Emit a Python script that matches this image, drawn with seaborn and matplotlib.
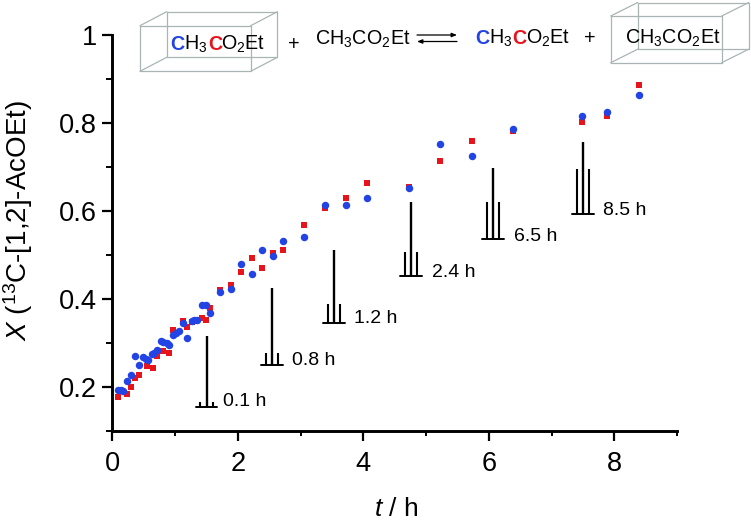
import matplotlib
matplotlib.use('Agg')

import pandas as pd
import matplotlib.pyplot as plt
import seaborn as sns
from matplotlib.lines import Line2D

W, H = 751, 521

# Blue circles
blue_t = [0.084, 0.137, 0.174, 0.227, 0.291, 0.355, 0.424, 0.482, 0.530, 0.562, 0.636, 0.668, 0.711,
          0.769, 0.812, 0.865, 0.907, 0.971, 1.014, 1.056, 1.125, 1.189, 1.263, 1.306, 1.348, 1.423,
          1.486, 1.555, 1.720, 1.890, 2.049, 2.219, 2.384, 2.554, 2.719, 3.048, 3.383, 3.717, 4.063,
          4.727, 5.226, 5.725, 6.384, 7.478, 7.882, 8.397]
blue_x = [0.195, 0.193, 0.192, 0.215, 0.227, 0.272, 0.251, 0.268, 0.264, 0.262, 0.275, 0.279, 0.284,
          0.306, 0.304, 0.300, 0.296, 0.320, 0.324, 0.327, 0.347, 0.311, 0.350, 0.352, 0.352, 0.386,
          0.386, 0.368, 0.417, 0.424, 0.479, 0.458, 0.511, 0.498, 0.533, 0.542, 0.613, 0.614, 0.630,
          0.652, 0.752, 0.725, 0.787, 0.816, 0.826, 0.864]

# Red squares
red_t = [0.095, 0.227, 0.296, 0.360, 0.424, 0.546, 0.642, 0.705, 0.812, 0.907, 0.971, 1.125, 1.194,
         1.274, 1.423, 1.492, 1.555, 1.720, 1.890, 2.049, 2.219, 2.389, 2.554, 2.719, 3.048, 3.383,
         3.717, 4.063, 4.727, 5.226, 5.725, 6.384, 7.478, 7.882, 8.397]
red_x = [0.179, 0.186, 0.200, 0.222, 0.227, 0.248, 0.245, 0.272, 0.282, 0.278, 0.330, 0.351, 0.337,
         0.349, 0.357, 0.354, 0.380, 0.420, 0.432, 0.461, 0.494, 0.471, 0.504, 0.511, 0.568, 0.608,
         0.630, 0.663, 0.654, 0.713, 0.759, 0.783, 0.803, 0.817, 0.887]

# NMR insets
spec_labels = ['0.1 h', '0.8 h', '1.2 h', '2.4 h', '6.5 h', '8.5 h']
spec_t = [1.503, 2.543, 3.532, 4.759, 6.066, 7.500]
spec_base = [0.155, 0.250, 0.345, 0.452, 0.536, 0.593]
spec_main = [0.161, 0.175, 0.166, 0.168, 0.161, 0.164]
spec_side = [0.011, 0.027, 0.045, 0.055, 0.084, 0.102]
spec_label_t = [1.76, 2.86, 3.85, 5.09, 6.40, 7.82]
spec_label_x = [0.167, 0.262, 0.356, 0.461, 0.543, 0.602]

x_major = [0, 2, 4, 6, 8]
x_minor = [1, 3, 5, 7, 9]
y_major = [0.2, 0.4, 0.6, 0.8, 1.0]
y_labels = ['0.2', '0.4', '0.6', '0.8', '1']
y_minor = [0.1, 0.3, 0.5, 0.7, 0.9]

BLUE = '#2244e4'
RED = '#e8141c'
BOX = '#a9b5b5'

sns.set_style('ticks')
plt.rcParams['font.family'] = ['Liberation Sans']
plt.rcParams['text.color'] = 'black'
plt.rcParams['xtick.labelcolor'] = 'black'
plt.rcParams['ytick.labelcolor'] = 'black'
plt.rcParams['mathtext.fontset'] = 'custom'
plt.rcParams['mathtext.rm'] = 'Liberation Sans'
plt.rcParams['mathtext.it'] = 'Liberation Sans:italic'

fig = plt.figure(figsize=(W / 100, H / 100), dpi=100)
ax = fig.add_axes([112.4 / W, 1 - 431.4 / H, (677 - 112.4) / W, (431.4 - 35) / H])

red_df = pd.DataFrame({'t': red_t, 'x': red_x})
blue_df = pd.DataFrame({'t': blue_t, 'x': blue_x})
sns.scatterplot(data=red_df, x='t', y='x', marker='s', s=24, color=RED, linewidth=0, ax=ax, clip_on=False)
sns.scatterplot(data=blue_df, x='t', y='x', marker='o', s=29, color=BLUE, linewidth=0, ax=ax, clip_on=False)

ax.set_xlabel('')
ax.set_ylabel('')
ax.set_xlim(0, 9)
ax.set_ylim(0.1, 1)
ax.set_xticks(x_major)
ax.set_xticks(x_minor, minor=True)
ax.set_yticks(y_major)
ax.set_yticklabels(y_labels)
ax.set_yticks(y_minor, minor=True)
ax.tick_params(axis='x', which='major', length=7.2, width=1.6, labelsize=19.6, pad=7, color='black')
ax.tick_params(axis='x', which='minor', length=3.8, width=1.4, color='black')
ax.tick_params(axis='y', which='major', length=7.2, width=1.6, labelsize=19.6, pad=4, color='black')
ax.tick_params(axis='y', which='minor', length=4.3, width=1.4, color='black')
sns.despine(ax=ax)
for side in ['left', 'bottom']:
    ax.spines[side].set_linewidth(2.1)
    ax.spines[side].set_color('black')

fig.text(18 / W, 1 - 221 / H, r'$\mathit{X}$ ($^{13}$C-[1,2]-AcOEt)', rotation=90, ha='center', va='center',
         fontsize=20)
fig.text(396 / W, 1 - 516 / H, r'$\mathit{t}$ / h', ha='center', va='baseline', fontsize=19)

# NMR insets
for t, base, main, side, label, lt, lx in zip(spec_t, spec_base, spec_main, spec_side, spec_labels,
                                              spec_label_t, spec_label_x):
    ax.plot([t - 0.17, t + 0.17], [base, base], color='black', lw=1.4, solid_capstyle='round')
    ax.vlines([t - 0.1, t + 0.1], base, base + side, color='black', lw=1.5)
    ax.vlines(t, base, base + main, color='black', lw=1.7)
    ax.text(lt, lx, label, fontsize=14, ha='left', va='center')


def px_text(x, y, s, **kw):
    kw.setdefault('fontsize', 14.2)
    fig.text(x / W, 1 - y / H, s, va='baseline', ha='left', **kw)


def px_line(xs, ys, **kw):
    fig.add_artist(Line2D([x / W for x in xs], [1 - y / H for y in ys], transform=fig.transFigure, **kw))


def draw_box(left, top, right, bottom, dx, dy):
    for x0, y0, x1, y1 in [(left, top, right, bottom), (left + dx, top - dy, right + dx, bottom - dy)]:
        px_line([x0, x1, x1, x0, x0], [y0, y0, y1, y1, y0], color=BOX, lw=0.9)
    for x, y in [(left, top), (right, top), (left, bottom), (right, bottom)]:
        px_line([x, x + dx], [y, y - dy], color=BOX, lw=0.9)


draw_box(140, 25.7, 250.7, 71.3, 26.7, 14)
draw_box(610.7, 16, 721.7, 62.7, 27, 13.5)

# labelled ester, left of the equilibrium
px_text(170, 50, 'C', color=BLUE, weight='bold')
px_text(184, 50, r'H$_3$')
px_text(208, 50, 'C', color=RED, weight='bold')
px_text(221, 50, r'O$_2$Et')
px_text(288, 50, '+')
px_text(315, 45, r'CH$_3$CO$_2$Et')

# equilibrium arrows
for x0, x1, y in [(417, 457, 35), (457, 417, 41.5)]:
    ax.annotate('', xy=(x1 / W, 1 - y / H), xytext=(x0 / W, 1 - y / H), xycoords='figure fraction',
                textcoords='figure fraction', annotation_clip=False,
                arrowprops=dict(arrowstyle='-|>,head_width=0.12,head_length=0.3', color='black', lw=0.9,
                                shrinkA=0, shrinkB=0))

# products
px_text(475, 44, 'C', color=BLUE, weight='bold')
px_text(489, 44, r'H$_3$')
px_text(512, 44, 'C', color=RED, weight='bold')
px_text(526, 44, r'O$_2$Et')
px_text(584, 44, '+')
px_text(625, 43.5, r'CH$_3$CO$_2$Et')

plt.savefig('out.png', dpi=100)
